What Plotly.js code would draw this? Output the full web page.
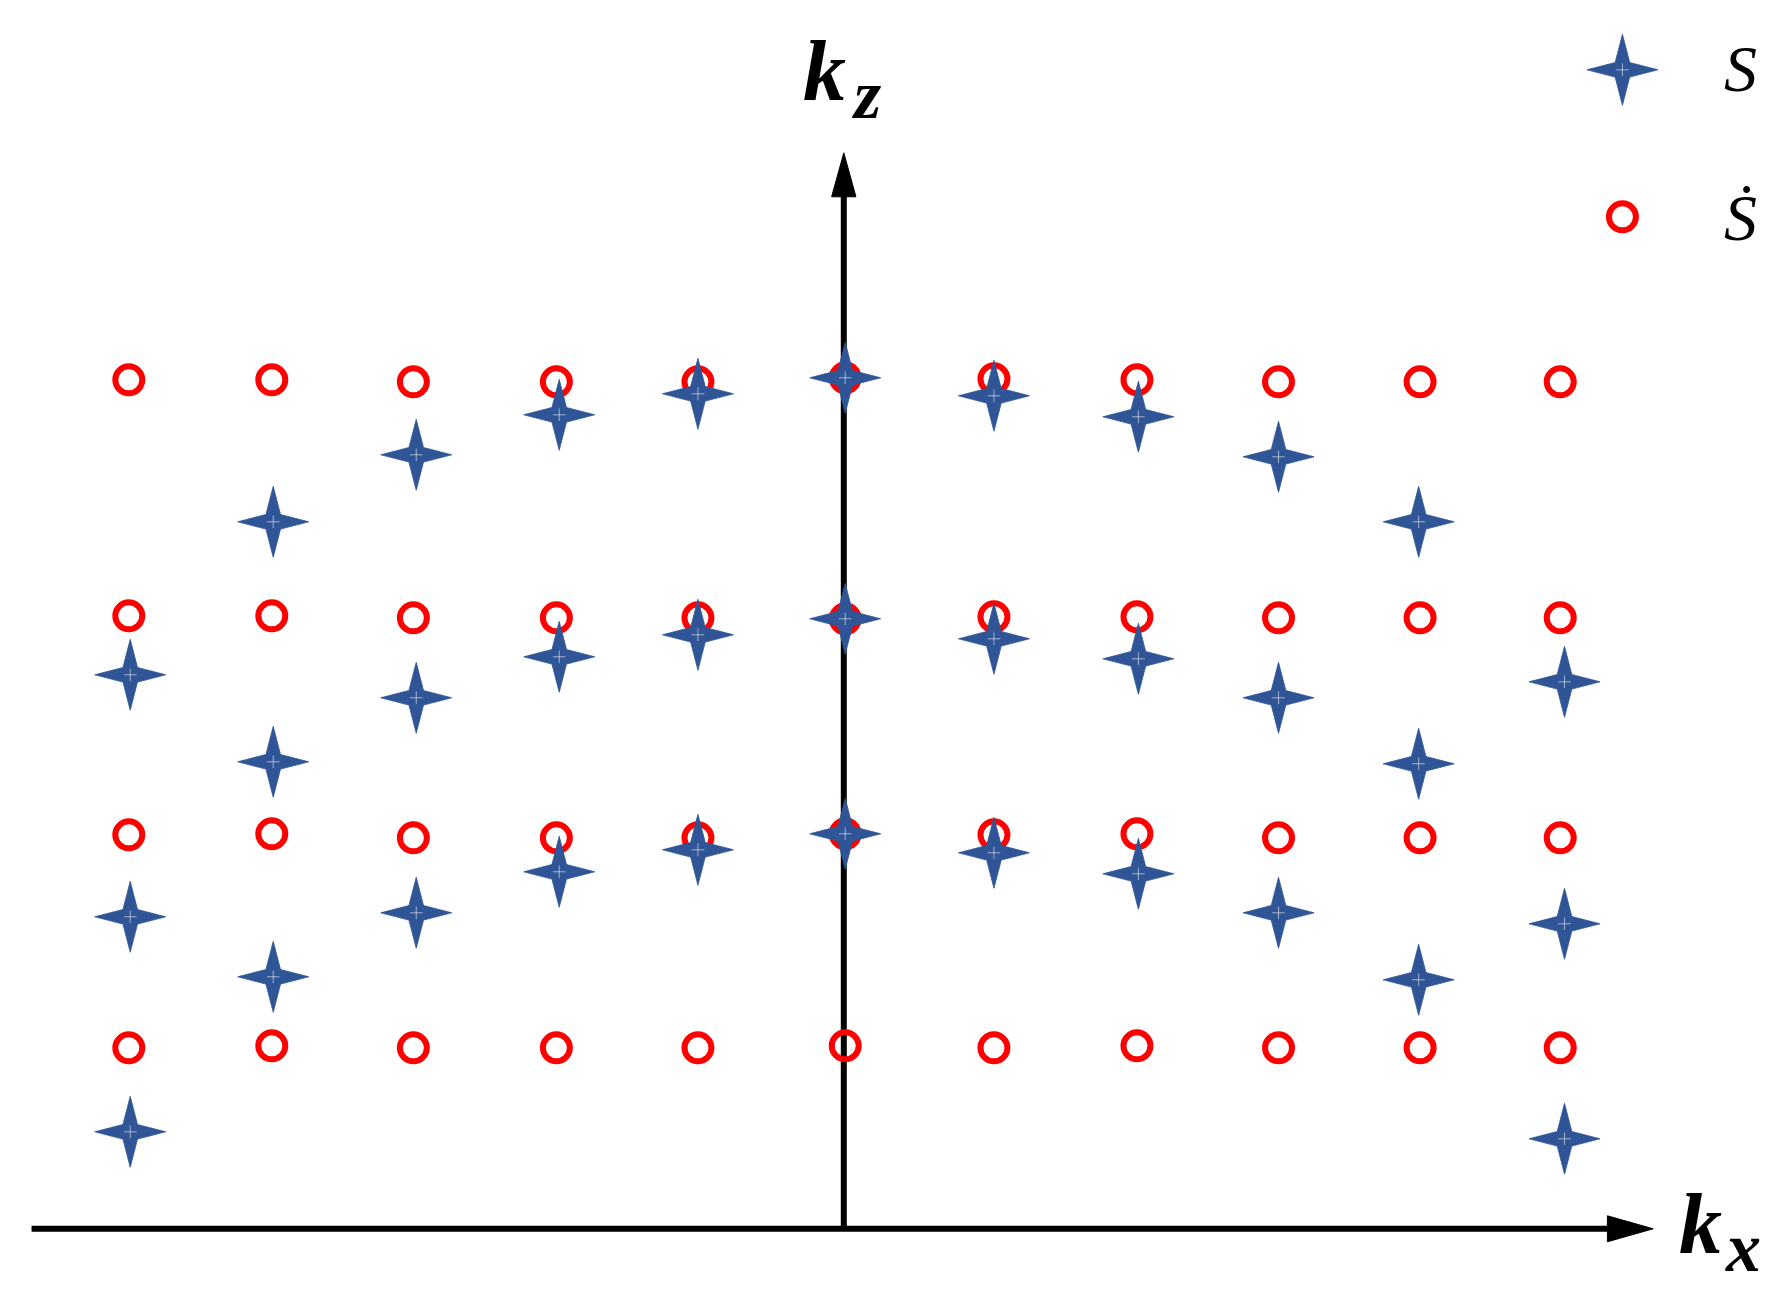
<!DOCTYPE html>
<html><head><meta charset="utf-8">
<script src="https://cdn.plot.ly/plotly-3.0.1.min.js"></script>
<style>html,body{margin:0;padding:0;background:#fff;} #chart{width:1791px;height:1306px;}</style>
</head><body><div id="chart"></div>
<script>
// ---- data (kx in lattice columns, kz in arbitrary units, origin at the axes crossing) ----
const circleKx = [-5.00, -4.00, -3.01, -2.01, -1.02, 0.01, 1.05, 2.05, 3.04, 4.03, 5.01];
const circleKzRow1 = [8.49, 8.49, 8.47, 8.47, 8.47, 8.51, 8.50, 8.49, 8.47, 8.47, 8.47];
const circleKzRow2 = [6.13, 6.13, 6.11, 6.11, 6.11, 6.10, 6.12, 6.12, 6.11, 6.11, 6.11];
const circleKzRow3 = [3.94, 3.95, 3.91, 3.91, 3.91, 3.95, 3.94, 3.95, 3.91, 3.91, 3.91];
const circleKzRow4 = [1.81, 1.83, 1.81, 1.81, 1.81, 1.83, 1.81, 1.83, 1.81, 1.81, 1.81];

const starKx = [-4.99, -3.99, -2.99, -1.99, -1.02, 0.01, 1.05, 2.06, 3.04, 4.02, 5.04];
const starKzBand1 = [5.54, 7.07, 7.74, 8.14, 8.35, 8.51, 8.33, 8.12, 7.72, 7.07, 5.47];
const starKzBand2 = [3.12, 4.67, 5.31, 5.72, 5.94, 6.10, 5.90, 5.70, 5.31, 4.65, 3.05];
const starKzBand3 = [0.97, 2.52, 3.16, 3.57, 3.79, 3.95, 3.76, 3.55, 3.16, 2.49, 0.90];

const seriesNames = ['S', 'Ṡ'];
const axisLetter = 'k';
const axisSubs = ['z', 'x'];

// ---- styling / layout constants ----
const W = 1791, H = 1306;
const STAR_COLOR = '#2F5597';
const RING_COLOR = '#FF0000';
const X_RANGE = [-5.9007, 6.6238];
const Y_RANGE = [-0.772, 12.288];
const PXX = W / (X_RANGE[1] - X_RANGE[0]);   // px per kx unit
const PXZ = H / (Y_RANGE[1] - Y_RANGE[0]);   // px per kz unit
const STAR_R = 35.5, STAR_A = 7.3;           // star glyph: tip radius, waist (px)
const AX = {xMin: -5.68, xTip: 5.66, zTip: 10.76, headXLen: 0.32, headXHalf: 0.13, headZLen: 0.44, headZHalf: 0.085};
const LEG = {x: 5.445, zStar: 11.59, zRing: 10.12};

const circX = [].concat(circleKx, circleKx, circleKx, circleKx);
const circY = [].concat(circleKzRow1, circleKzRow2, circleKzRow3, circleKzRow4);
const starX = [].concat(starKx, starKx, starKx);
const starY = [].concat(starKzBand1, starKzBand2, starKzBand3);

// four-pointed star glyph outline around each point (glyph size in px, converted through axis scale)
const glyph = [[STAR_R, 0], [STAR_A, STAR_A], [0, STAR_R], [-STAR_A, STAR_A], [-STAR_R, 0], [-STAR_A, -STAR_A], [0, -STAR_R], [STAR_A, -STAR_A]];
function starOutline(xs, ys) {
  const ox = [], oy = [];
  xs.forEach((x, i) => {
    glyph.concat([glyph[0]]).forEach(([gx, gy]) => { ox.push(x + gx / PXX); oy.push(ys[i] + gy / PXZ); });
    ox.push(null); oy.push(null);
  });
  return {x: ox, y: oy};
}
const starShape = starOutline(starX, starY);
const legStarShape = starOutline([LEG.x], [LEG.zStar]);

const crossMarker = {symbol: 'cross-thin-open', size: 9, color: 'rgba(255,255,255,0.55)', line: {color: 'rgba(255,255,255,0.55)', width: 1}};
const ringMarker = {symbol: 'circle-open', size: 27, color: RING_COLOR, line: {color: RING_COLOR, width: 6}};

const traces = [
  {type: 'scatter', mode: 'markers', x: circX, y: circY, name: seriesNames[1], showlegend: false, marker: ringMarker},
  {type: 'scatter', mode: 'lines', x: starShape.x, y: starShape.y, name: seriesNames[0], showlegend: false,
   fill: 'toself', fillcolor: STAR_COLOR, line: {color: STAR_COLOR, width: 0.8}, connectgaps: false, hoverinfo: 'skip'},
  {type: 'scatter', mode: 'markers', x: starX, y: starY, name: seriesNames[0], showlegend: false, marker: crossMarker},
  // legend glyphs
  {type: 'scatter', mode: 'lines', x: legStarShape.x, y: legStarShape.y, showlegend: false, hoverinfo: 'skip',
   fill: 'toself', fillcolor: STAR_COLOR, line: {color: STAR_COLOR, width: 0.8}},
  {type: 'scatter', mode: 'markers', x: [LEG.x], y: [LEG.zStar], showlegend: false, hoverinfo: 'skip', marker: crossMarker},
  {type: 'scatter', mode: 'markers', x: [LEG.x], y: [LEG.zRing], showlegend: false, hoverinfo: 'skip', marker: ringMarker}
];

const hx = AX.xTip - AX.headXLen;
const hz = AX.zTip - AX.headZLen;
const shapes = [
  {type: 'line', xref: 'x', yref: 'y', x0: AX.xMin, y0: 0, x1: hx + 0.02, y1: 0, line: {color: '#000', width: 6}, layer: 'below'},
  {type: 'path', xref: 'x', yref: 'y', path: `M ${hx},${-AX.headXHalf} L ${AX.xTip},0 L ${hx},${AX.headXHalf} Z`,
   fillcolor: '#000', line: {color: '#000', width: 1}, layer: 'below'},
  {type: 'line', xref: 'x', yref: 'y', x0: 0, y0: 0, x1: 0, y1: hz + 0.02, line: {color: '#000', width: 6}, layer: 'below'},
  {type: 'path', xref: 'x', yref: 'y', path: `M ${-AX.headZHalf},${hz} L 0,${AX.zTip} L ${AX.headZHalf},${hz} Z`,
   fillcolor: '#000', line: {color: '#000', width: 1}, layer: 'below'}
];

const kFont = {family: 'Liberation Serif, serif', size: 86, color: '#000'};
const subFont = {family: 'Liberation Serif, serif', size: 70, color: '#000'};
const legFont = {family: 'Liberation Serif, serif', size: 66, color: '#000'};
function txt(px, py, text, font) {
  return {xref: 'paper', yref: 'paper', x: px / W, y: 1 - py / H, showarrow: false,
          xanchor: 'center', yanchor: 'middle', text: text, font: font};
}
const annotations = [
  txt(824, 71, `<b><i>${axisLetter}</i></b>`, kFont),
  txt(866, 94, `<b><i>${axisSubs[0]}</i></b>`, subFont),
  txt(1700, 1224, `<b><i>${axisLetter}</i></b>`, kFont),
  txt(1743, 1247, `<b><i>${axisSubs[1]}</i></b>`, subFont),
  txt(1740, 69, `<i>${seriesNames[0]}</i>`, legFont),
  txt(1740, 217, `<i>${seriesNames[1]}</i>`, legFont)
];

const layout = {
  width: W, height: H,
  margin: {l: 0, r: 0, t: 0, b: 0, pad: 0},
  paper_bgcolor: '#fff', plot_bgcolor: '#fff',
  xaxis: {range: X_RANGE, visible: false, showgrid: false, zeroline: false, fixedrange: true},
  yaxis: {range: Y_RANGE, visible: false, showgrid: false, zeroline: false, fixedrange: true},
  shapes: shapes, annotations: annotations, showlegend: false
};

Plotly.newPlot('chart', traces, layout, {displayModeBar: false, staticPlot: true});
</script>
</body></html>
